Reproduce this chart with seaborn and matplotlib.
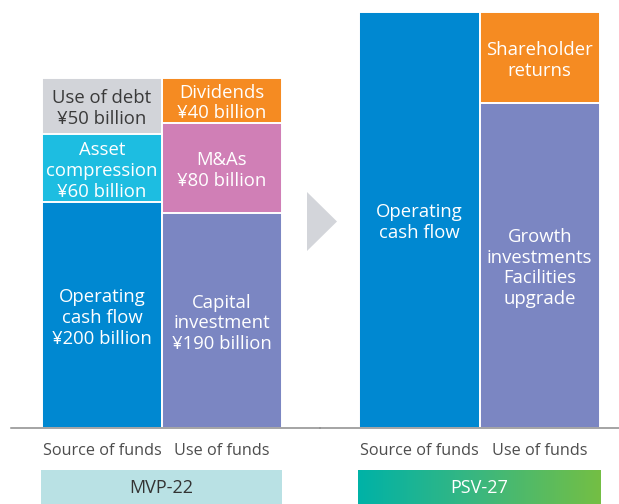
import numpy as np
import pandas as pd
import matplotlib
matplotlib.use("Agg")
import matplotlib.pyplot as plt
from matplotlib.colors import LinearSegmentedColormap
from matplotlib.patches import Polygon
from matplotlib.transforms import offset_copy
import seaborn as sns

sns.set_theme(style="white")
plt.rcParams["font.family"] = ["Open Sans", "DejaVu Sans"]

# --- data -------------------------------------------------------------
sides = ["Source of funds", "Use of funds"]

mvp_side = ["Source of funds", "Source of funds", "Source of funds",
            "Use of funds", "Use of funds", "Use of funds"]
mvp_names = ["Operating\ncash flow", "Asset\ncompression", "Use of debt",
             "Capital\ninvestment", "M&As", "Dividends"]
mvp_values = [200, 60, 50, 190, 80, 40]
mvp_colors = ["#0088d1", "#1dbde1", "#d2d4d9", "#7b86c2", "#d07fb6", "#f58b22"]
mvp_text = ["white", "white", "#3a3a3a", "white", "white", "white"]

psv_side = ["Source of funds", "Use of funds", "Use of funds"]
psv_names = ["Operating\ncash flow", "Growth\ninvestments\nFacilities\nupgrade",
             "Shareholder\nreturns"]
psv_values = [368, 288, 80]
psv_colors = ["#0088d1", "#7b86c2", "#f58b22"]
psv_text = ["white", "white", "white"]

plans = ["MVP-22", "PSV-27"]

W, H = 619, 504
fig = plt.figure(figsize=(W / 100, H / 100), dpi=100)
fig.patch.set_facecolor("white")

base_y = 428          # baseline, px from top
px_per_unit = 1.13
ymax = base_y / px_per_unit


def stacked(ax, side, names, values, colors, text_colors, with_values):
    df = pd.DataFrame({"side": side, "name": names, "value": values})
    df["key"] = df["side"] + "|" + df["name"]
    df["bottom"] = df.groupby("side")["value"].cumsum() - df["value"]
    df["top"] = df["bottom"] + df["value"]
    order_keys = list(df.sort_values("top", ascending=False)["key"])
    pal = dict(zip(df["key"], colors))
    sns.barplot(data=df, x="side", y="top", hue="key", hue_order=order_keys,
                order=sides, palette=pal, dodge=False, width=1.0,
                edgecolor="white", linewidth=1.4, saturation=1,
                legend=False, ax=ax)
    pos = {s: i for i, s in enumerate(sides)}
    # nudge segment labels slightly down so the glyphs sit optically centred
    txt_tr = offset_copy(ax.transData, fig=fig, x=0, y=-2, units="points")
    for (_, r), tc in zip(df.iterrows(), text_colors):
        label = r["name"]
        if with_values:
            label = f"{label}\n¥{r['value']} billion"
        ax.text(pos[r["side"]], r["bottom"] + r["value"] / 2, label,
                ha="center", va="center", color=tc, fontsize=13.3,
                linespacing=1.2, transform=txt_tr)
    ax.set_ylim(0, ymax)
    ax.set_xlabel("")
    ax.set_ylabel("")
    ax.set_yticks([])
    ax.tick_params(axis="x", length=0, pad=11, labelsize=11.7, labelcolor="#4d4d4d")
    for s in ["top", "left", "right"]:
        ax.spines[s].set_visible(False)
    ax.spines["bottom"].set_color("#8c8c8c")
    ax.spines["bottom"].set_linewidth(1.1)
    ax.spines["bottom"].set_zorder(5)
    ax.set_facecolor("none")


bottom_frac = (H - base_y) / H

# left panel: bars span 42..282 px
ax1 = fig.add_axes([11 / W, bottom_frac, (320 - 11) / W, 1 - bottom_frac])
stacked(ax1, mvp_side, mvp_names, mvp_values, mvp_colors, mvp_text, True)
ax1.set_xlim(-0.5 - 31 / 120, 1.5 + 38 / 120)

# right panel: bars span 359..600 px
ax2 = fig.add_axes([320 / W, bottom_frac, (619 - 320) / W, 1 - bottom_frac])
stacked(ax2, psv_side, psv_names, psv_values, psv_colors, psv_text, False)
ax2.set_xlim(-0.5 - 39 / 120.5, 1.5 + 19 / 120.5)

# arrow between the two plans
tri = Polygon([[307 / W, 1 - 192 / H], [307 / W, 1 - 251 / H],
               [337 / W, 1 - 221.5 / H]], closed=True,
              transform=fig.transFigure, facecolor="#d3d5da", edgecolor="none")
fig.patches.append(tri)

# plan name boxes
bx1 = fig.add_axes([41 / W, 0, (282 - 41) / W, 34 / H])
bx1.set_facecolor("#b9e1e4")
bx1.set_xticks([]); bx1.set_yticks([])
for s in bx1.spines.values():
    s.set_visible(False)
bx1.text(0.5, 0.46, plans[0], ha="center", va="center", fontsize=13,
         color="#333333", transform=bx1.transAxes)

bx2 = fig.add_axes([358 / W, 0, (601 - 358) / W, 34 / H])
grad = LinearSegmentedColormap.from_list("plan", ["#00b2a7", "#3bb77e", "#74bf44"])
bx2.imshow(np.linspace(0, 1, 256)[None, :], cmap=grad, aspect="auto",
           extent=[0, 1, 0, 1])
bx2.set_xlim(0, 1); bx2.set_ylim(0, 1)
bx2.set_xticks([]); bx2.set_yticks([])
for s in bx2.spines.values():
    s.set_visible(False)
bx2.text(0.5, 0.46, plans[1], ha="center", va="center", fontsize=13,
         color="white", transform=bx2.transAxes)

fig.savefig("out.png", dpi=100, facecolor="white")
